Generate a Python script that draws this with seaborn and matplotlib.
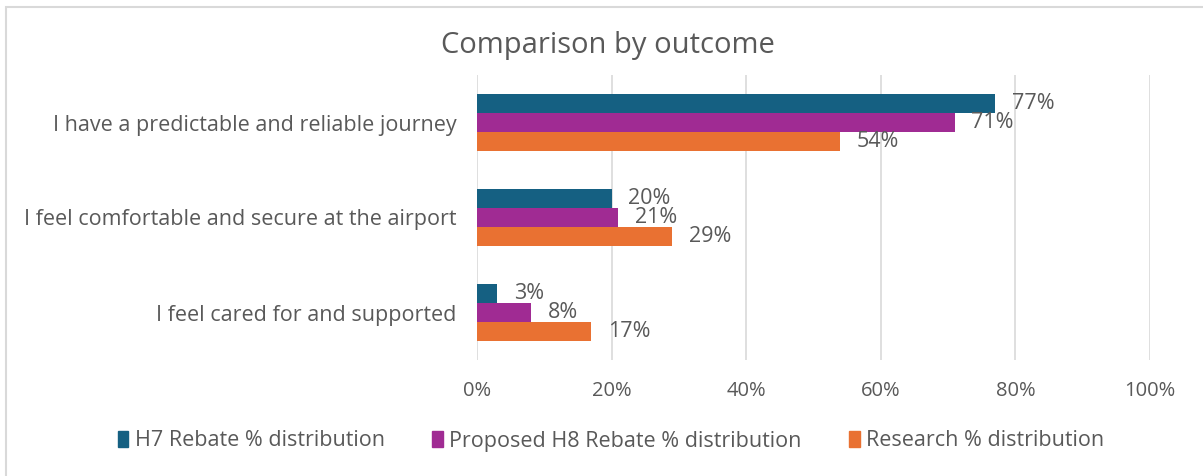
import matplotlib
matplotlib.use("Agg")
import matplotlib.pyplot as plt
import matplotlib.patches as mpatches
from matplotlib.ticker import PercentFormatter
import seaborn as sns
import pandas as pd

outcomes = [
    "I have a predictable and reliable journey",
    "I feel comfortable and secure at the airport",
    "I feel cared for and supported",
]
series_names = [
    "H7 Rebate % distribution",
    "Proposed H8 Rebate % distribution",
    "Research % distribution",
]
h7_rebate = [77, 20, 3]
h8_rebate = [71, 21, 8]
research = [54, 29, 17]
colors = ["#156082", "#A02B93", "#E97132"]

rows = []
for name, vals in zip(series_names, [h7_rebate, h8_rebate, research]):
    for outcome, v in zip(outcomes, vals):
        rows.append({"Outcome": outcome, "Series": name, "Value": v})
df = pd.DataFrame(rows)

sns.set_theme(style="white")
plt.rcParams["font.family"] = ["Open Sans", "DejaVu Sans"]
text_color = "#595959"
fs = 15.5

fig = plt.figure(figsize=(12.03, 4.76), dpi=100)
ax = fig.add_axes([477 / 1203, 1 - 360 / 476, 673 / 1203, 285 / 476])

sns.barplot(data=df, y="Outcome", x="Value", hue="Series", order=outcomes,
            hue_order=series_names, palette=colors, width=0.6, orient="h",
            saturation=1, linewidth=0, ax=ax, legend=False)

for container, vals in zip(ax.containers, [h7_rebate, h8_rebate, research]):
    ax.bar_label(container, labels=[f"{v}%" for v in vals], padding=12,
                 fontsize=fs, color=text_color)

ax.set_xlim(0, 100)
ax.set_ylim(2.5, -0.5)
ax.set_xticks(range(0, 101, 20))
ax.xaxis.set_major_formatter(PercentFormatter(decimals=0))
ax.grid(axis="x", color="#d9d9d9", linewidth=1.2)
ax.grid(axis="y", visible=False)
for s in ax.spines.values():
    s.set_visible(False)
ax.set_xlabel("")
ax.set_ylabel("")
ax.tick_params(axis="x", colors=text_color, labelsize=14.5, pad=15, length=0)
ax.tick_params(axis="y", colors=text_color, labelsize=fs, pad=15, length=0)

fig.text(608 / 1203, 1 - 45 / 476, "Comparison by outcome", ha="center",
         va="center", fontsize=21, color=text_color)

handles = [mpatches.Patch(color=c, label=n) for c, n in zip(colors, series_names)]
fig.legend(handles=handles, loc="center", bbox_to_anchor=(611 / 1203, 1 - 441 / 476),
           ncol=3, frameon=False, fontsize=fs, labelcolor=text_color,
           handlelength=0.5, handleheight=0.8, handletextpad=0.3, columnspacing=2.2)

fig.patches.append(mpatches.Rectangle((5.5 / 1203, -0.1), 1.2, 1 - 6.5 / 476 + 0.1,
                                      transform=fig.transFigure, fill=False,
                                      edgecolor="#d9d9d9", linewidth=1.5))

fig.savefig("out.png", dpi=100, facecolor="white")
